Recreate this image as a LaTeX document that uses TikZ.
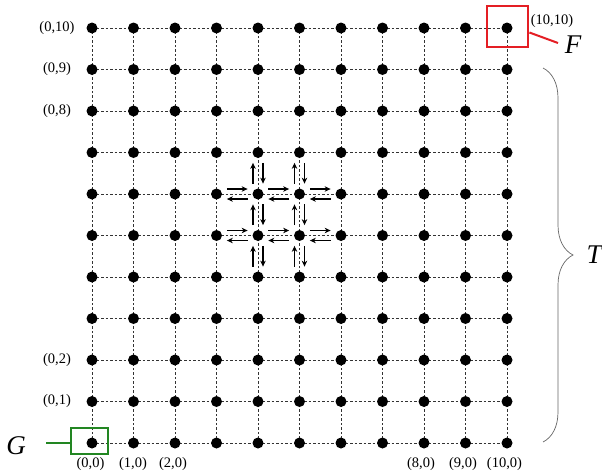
\documentclass[tikz,border=0pt]{standalone}
\usepackage{fontspec}
\setmainfont{Liberation Serif}
\usetikzlibrary{calc,arrows.meta,decorations.pathreplacing}
\definecolor{boxred}{RGB}{228,30,36}
\definecolor{boxgreen}{RGB}{34,134,34}
\begin{document}
\begin{tikzpicture}[x=1pt,y=-1pt,
  dot/.style={circle,fill=black,inner sep=0pt,minimum size=11pt},
  gridline/.style={dash pattern=on 2.5pt off 2pt,line width=0.7pt,black!80},
  lab/.style={font=\fontsize{14.5}{16}\selectfont,inner sep=0pt},
  big/.style={font=\fontsize{27}{30}\selectfont\itshape,inner sep=0pt},
  flow/.style={line width=1.3pt,-{Stealth[length=6pt,width=5.5pt]}},
  redbox/.style={draw=boxred,line width=2.8pt,minimum width=41pt,minimum height=41pt,inner sep=0pt},
  greenbox/.style={draw=boxgreen,line width=2.8pt,minimum width=37pt,minimum height=26pt,inner sep=0pt},
  bracestyle/.style={draw=black!60,line width=0.7pt,decorate,decoration={brace,amplitude=30pt,aspect=0.5}}
]
\useasboundingbox (0,0) rectangle (602,472);
\foreach \i in {0,...,10}{\foreach \j in {0,...,10}{
  \coordinate (c-\i-\j) at ({92+41.5*\i},{443-41.5*\j});}}
% dashed grid
\foreach \i in {0,...,10}{\foreach \j [evaluate=\j as \jj using int(\j+1)] in {0,...,9}{
  \draw[gridline] (c-\i-\j) -- (c-\i-\jj);
  \draw[gridline] (c-\j-\i) -- (c-\jj-\i);}}
% dots
\foreach \i in {0,...,10}{\foreach \j in {0,...,10}{
  \node[dot] (n-\i-\j) at (c-\i-\j) {};}}
% horizontal flow arrows
\foreach \i/\j in {3/6,4/6,5/6,3/5,4/5,5/5}{
  \pgfmathtruncatemacro\ii{\i+1}
  \draw[flow] ($(n-\i-\j)!0.25!(n-\ii-\j)+(0,-5)$) -- ($(n-\i-\j)!0.75!(n-\ii-\j)+(0,-5)$);
  \draw[flow] ($(n-\i-\j)!0.75!(n-\ii-\j)+(0,5)$) -- ($(n-\i-\j)!0.25!(n-\ii-\j)+(0,5)$);}
% vertical flow arrows
\foreach \i/\j in {4/4,4/5,4/6,5/4,5/5,5/6}{
  \pgfmathtruncatemacro\jj{\j+1}
  \draw[flow] ($(n-\i-\j)!0.25!(n-\i-\jj)+(-5,0)$) -- ($(n-\i-\j)!0.75!(n-\i-\jj)+(-5,0)$);
  \draw[flow] ($(n-\i-\j)!0.75!(n-\i-\jj)+(5,0)$) -- ($(n-\i-\j)!0.25!(n-\i-\jj)+(5,0)$);}
% coordinate labels
\node[lab] (l-0-10) at (57,28) {(0,10)};
\node[lab] (l-0-9) at (57,69.5) {(0,9)};
\node[lab] (l-0-8) at (57,111) {(0,8)};
\node[lab] (l-0-2) at (57,360) {(0,2)};
\node[lab] (l-0-1) at (57,401.5) {(0,1)};
\node[lab] (l-0-0) at (90.5,464) {(0,0)};
\node[lab] (l-1-0) at (133,464) {(1,0)};
\node[lab] (l-2-0) at (173,464) {(2,0)};
\node[lab] (l-8-0) at (421,464) {(8,0)};
\node[lab] (l-9-0) at (463,464) {(9,0)};
\node[lab] (l-10-0) at (504.5,464) {(10,0)};
\node[lab] (l-10-10) at (552,21) {(10,10)};
% F box
\node[redbox] (fbox) at (507.5,26.5) {};
\node[big] (F) at (573,45) {F};
\coordinate (fend) at (558,43);
\draw[boxred,line width=2pt] ($(fbox.east)+(0,6)$) -- (fend);
% G box
\node[greenbox] (gbox) at (89.5,441) {};
\node[big] (G) at (16,446) {G};
\coordinate (gstart) at (46,443);
\draw[boxgreen,line width=2.8pt] (gstart) -- (gbox.west |- gstart);
% brace T
\coordinate (btop) at (543,68);
\coordinate (bbot) at (543,442);
\draw[bracestyle] (btop) -- (bbot);
\node[big] (T) at (594,255) {T};
\end{tikzpicture}
\end{document}
